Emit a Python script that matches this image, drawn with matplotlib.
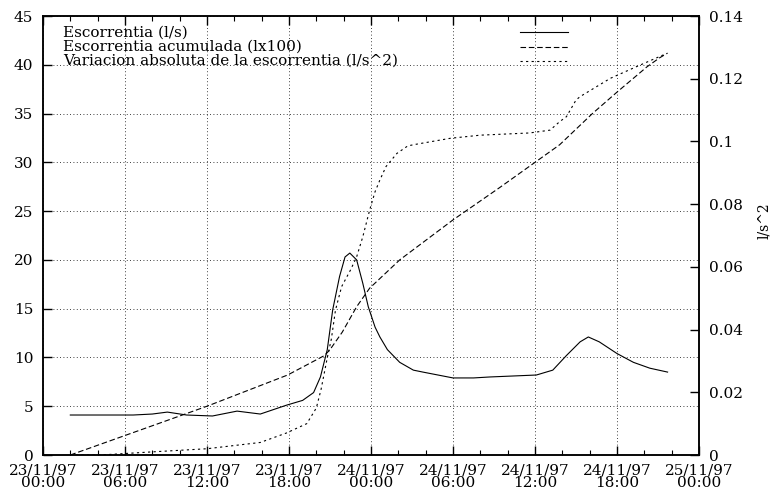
import numpy as np
import matplotlib
matplotlib.use("Agg")
import matplotlib.pyplot as plt
import matplotlib.dates as mdates
from matplotlib.ticker import FuncFormatter, MultipleLocator

plt.rcParams['font.family'] = ['DejaVu Serif']

t0 = np.datetime64('1997-11-23T00:00')

# escorrentia (l/s), hours after 23/11/97 00:00
h_esc = [2.0, 4.0, 6.6, 8.0, 9.1, 10.5, 12.4, 14.2, 15.9, 17.8, 19.0, 19.8, 20.3,
         20.8, 21.2, 21.7, 22.1, 22.45, 22.95, 23.4, 23.8, 24.3, 24.65, 25.2, 26.1,
         27.1, 27.8, 30.0, 31.5, 32.7, 36.1, 37.3, 38.3, 39.3, 39.9, 40.7, 42.0,
         43.2, 44.4, 45.7]
esc = [4.1, 4.1, 4.1, 4.2, 4.4, 4.1, 4.0, 4.5, 4.2, 5.1, 5.6, 6.4, 8.0,
       10.8, 14.9, 18.3, 20.3, 20.7, 20.0, 17.6, 15.2, 13.1, 12.1, 10.8, 9.5,
       8.7, 8.5, 7.9, 7.9, 8.0, 8.2, 8.7, 10.2, 11.6, 12.1, 11.6, 10.4,
       9.5, 8.9, 8.5]

# escorrentia acumulada (l x100)
h_acu = [2.0, 6.0, 12.0, 17.9, 20.6, 21.0, 21.9, 22.95, 23.9, 26.1, 30.0, 33.4,
         37.8, 40.2, 42.0, 44.2, 45.1, 45.7]
acu = [0, 2.0, 5.0, 8.2, 10.2, 10.8, 12.6, 15.2, 17.1, 20.0, 24.1, 27.4,
       31.8, 35.0, 37.2, 39.8, 40.7, 41.2]

# variacion absoluta (l/s^2), right axis
h_var = [2.0, 4.2, 8.0, 12.0, 15.9, 17.8, 19.3, 20.0, 20.35, 20.8, 21.1, 21.4,
         21.85, 22.5, 22.95, 23.4, 23.9, 24.3, 24.65, 25.1, 25.9, 26.7, 27.3,
         29.8, 32.0, 35.6, 37.1, 37.8, 38.3, 39.0, 39.3, 41.5, 43.4, 45.6]
var = [0, 0, 0.001, 0.002, 0.004, 0.007, 0.010, 0.015, 0.021, 0.031, 0.037, 0.0462,
       0.0537, 0.059, 0.0632, 0.0696, 0.0781, 0.084, 0.0877, 0.092, 0.0962, 0.0986, 0.0991,
       0.101, 0.102, 0.1027, 0.1036, 0.1063, 0.1079, 0.1132, 0.1143, 0.1201, 0.1238, 0.128]

labels = ['Escorrentia (l/s)', 'Escorrentia acumulada (lx100)',
          'Variacion absoluta de la escorrentia (l/s^2)']


def to_time(h):
    return t0 + (np.array(h) * 60).round().astype('timedelta64[m]')


fig = plt.figure(figsize=(7.73, 4.91), dpi=100)
ax = fig.add_axes([0.0556, 0.0733, 0.8487, 0.8941])
ax2 = ax.twinx()

st = [dict(ls='-'), dict(ls=(0, (5, 2.5))), dict(ls=(0, (2, 3)))]
ax.plot(to_time(h_esc), esc, color='black', lw=0.8, **st[0])
ax.plot(to_time(h_acu), acu, color='black', lw=0.8, **st[1])
ax2.plot(to_time(h_var), var, color='black', lw=0.8, **st[2])

ax.set_xlim(t0, t0 + np.timedelta64(48, 'h'))
ax.set_ylim(0, 45)
ax2.set_ylim(0, 0.14)
ax.yaxis.set_major_locator(MultipleLocator(5))
ax2.yaxis.set_major_locator(MultipleLocator(0.02))
ax2.yaxis.set_major_formatter(FuncFormatter(lambda v, p: '%g' % round(v, 3)))

ax.xaxis.set_major_locator(mdates.HourLocator(byhour=range(0, 24, 6)))
ax.xaxis.set_minor_locator(mdates.HourLocator(byhour=range(0, 24, 2)))
ax.xaxis.set_major_formatter(mdates.DateFormatter('%d/%m/%y\n%H:%M'))

ax.grid(True, which='major', color='black', ls=(0, (1, 3)), lw=0.6)

ax.tick_params(axis='x', which='both', direction='in', top=True, labelsize=11, pad=6)
ax.tick_params(axis='x', which='major', length=6.5, width=1)
ax.tick_params(axis='x', which='minor', length=3.5, width=0.8)
ax.tick_params(axis='y', direction='in', length=6.5, width=1, labelsize=11, pad=7, right=False)
ax2.tick_params(axis='y', direction='in', length=6.5, width=1, labelsize=11, pad=7)
for lab in ax.get_xticklabels():
    lab.set_linespacing(0.85)

for a in (ax, ax2):
    for s in a.spines.values():
        s.set_linewidth(1.1)

ax2.set_ylabel('l/s^2', fontsize=10, ha='center', va='center')
ax2.yaxis.set_label_coords(1.099, 0.533)

# gnuplot-style key: text on the left, line samples on the right
ax.text(0.031, 0.9305, '\n'.join(labels), transform=ax.transAxes, fontsize=11,
        va='center', ha='left', linespacing=1.0)
for i, s in enumerate(st):
    y = 0.964 - i * 0.0335
    ax.plot([0.727, 0.800], [y, y], transform=ax.transAxes, color='black', lw=0.8, **s)

fig.savefig('out.png', dpi=100)
